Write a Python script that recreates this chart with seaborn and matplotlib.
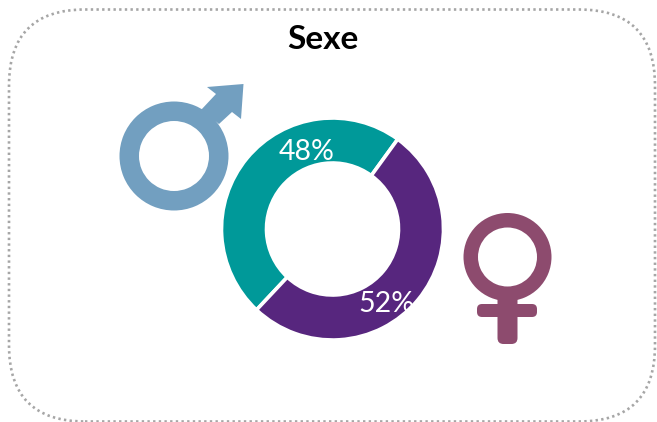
import matplotlib
matplotlib.use("Agg")
import matplotlib.pyplot as plt
import seaborn as sns
from matplotlib.patches import FancyBboxPatch, Polygon, Wedge

# Data
categories = ["Homme", "Femme"]
values = [48, 52]
labels = ["48%", "52%"]
colors = ["#009999", "#57267E"]
title = "Sexe"

W, H = 657, 422
sns.set_theme(style="white")
plt.rcParams["font.family"] = ["Lato", "DejaVu Sans"]

fig = plt.figure(figsize=(W / 100, H / 100), dpi=100, facecolor="white")
ax = fig.add_axes([0, 0, 1, 1])


def Y(y):
    return H - y


# Doughnut
ax.pie(values, colors=colors, startangle=54, counterclock=True,
       center=(332.5, Y(229)), radius=111, frame=True,
       wedgeprops=dict(width=45, edgecolor="white", linewidth=2.6))
ax.set_xlim(0, W)
ax.set_ylim(0, H)
ax.set_aspect("equal")
ax.axis("off")

# Dotted rounded border
ax.add_patch(FancyBboxPatch((9 + 76, Y(421.5) + 76), 646 - 152, 412 - 152,
                            boxstyle="round,pad=76,rounding_size=76",
                            fc="none", ec="#A6A6A6", lw=1.9,
                            ls=(0, (0.9, 1.25)), clip_on=False))

ax.text(306.5, Y(151.5), labels[0], color="white", fontsize=20.5, ha="center", va="center")
ax.text(386, Y(304.5), labels[1], color="white", fontsize=20.5, ha="center", va="center")
ax.text(322.5, Y(39.5), title, color="black", fontsize=24, fontweight="bold",
        ha="center", va="center")

# Male symbol
male = "#729FC0"
ax.add_patch(Wedge((174, Y(156)), 54.5, 0, 360, width=19.5, fc=male, ec="none"))
ax.add_patch(Polygon([(207, Y(87)), (243.5, Y(84)), (241, Y(119)), (232, Y(112)),
                      (219, Y(124)), (201, Y(110)), (216, Y(94))],
                     closed=True, fc=male, ec="none"))

# Female symbol
female = "#8D4B6E"
ax.add_patch(Wedge((507.5, Y(257)), 44, 0, 360, width=14.5, fc=female, ec="none"))
ax.add_patch(FancyBboxPatch((497.5 + 3, Y(344) + 3), 14, 50,
                            boxstyle="round,pad=3,rounding_size=6", fc=female, ec="none"))
ax.add_patch(FancyBboxPatch((477 + 3, Y(317) + 3), 54, 7,
                            boxstyle="round,pad=3,rounding_size=5", fc=female, ec="none"))

fig.savefig("out.png", dpi=100, facecolor="white")
